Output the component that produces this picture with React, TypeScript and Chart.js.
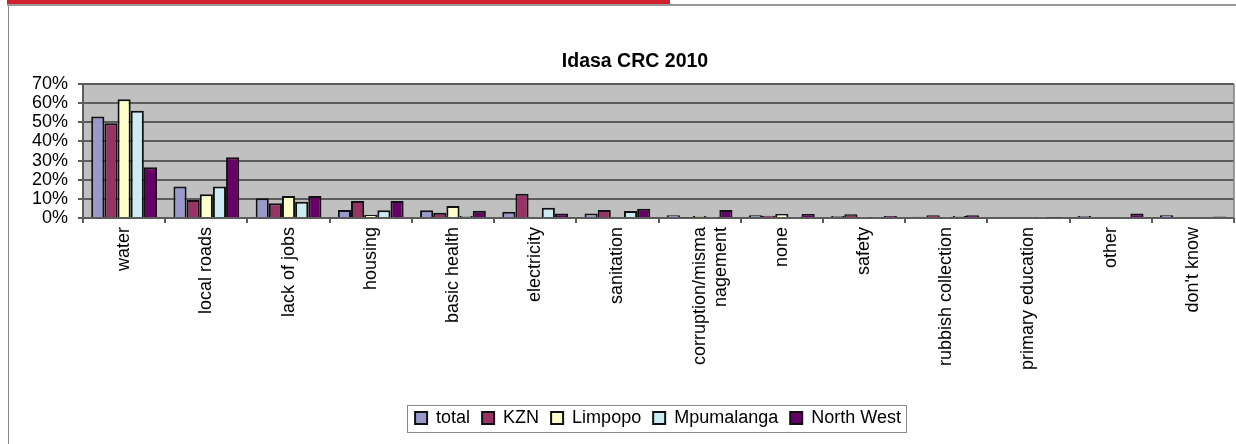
import React, { useEffect, useRef } from "react";
import { Chart, registerables } from "chart.js";

Chart.register(...registerables);

const categories: (string | string[])[] = [
  "water",
  "local roads",
  "lack of jobs",
  "housing",
  "basic health",
  "electricity",
  "sanitation",
  ["corruption/misma", "nagement"],
  "none",
  "safety",
  "rubbish collection",
  "primary education",
  "other",
  "don't know",
];

const total = [53, 16.5, 10.3, 4.2, 4, 3.3, 2.4, 1.4, 1.4, 1, 0.6, 0, 1.1, 1.4];
const kzn = [49.5, 9.4, 7.7, 8.9, 2.8, 12.7, 4.2, 0.2, 1.2, 1.9, 1.5, 0, 0.5, 0.5];
const limpopo = [62, 12.4, 11.5, 1.6, 6.3, 0, 0.5, 1, 2.1, 0.3, 0.2, 0, 0.5, 0];
const mpumalanga = [56, 16.5, 8.5, 4, 1, 5.4, 3.6, 0.3, 0.2, 0.3, 1.1, 0.3, 0.5, 0.5];
const northWest = [26.5, 31.7, 11.5, 8.9, 3.8, 2.4, 4.8, 4.2, 2.1, 1, 1.4, 0.3, 2.3, 0.8];

const yTicks = [0, 10, 20, 30, 40, 50, 60, 70];

const FONT = "'Liberation Sans', Arial, sans-serif";

const plotBg = {
  id: "plotBg",
  afterLayout(chart: any) {
    const lg = chart.legend;
    if (lg) {
      lg.left += 82;
    }
    const tt = chart.titleBlock;
    if (tt) {
      tt.left += 36;
    }
  },
  beforeDraw(chart: any) {
    const { ctx, chartArea } = chart;
    ctx.save();
    ctx.fillStyle = "#c0c0c0";
    ctx.fillRect(chartArea.left, chartArea.top, chartArea.right - chartArea.left, chartArea.bottom - chartArea.top);
    ctx.restore();
  },
  afterDraw(chart: any) {
    const { ctx, chartArea } = chart;
    ctx.save();
    ctx.strokeStyle = "#808080";
    ctx.lineWidth = 1.5;
    ctx.beginPath();
    ctx.moveTo(chartArea.right, chartArea.top);
    ctx.lineTo(chartArea.right, chartArea.bottom);
    ctx.stroke();
    const lg = chart.legend;
    if (lg && lg.legendHitBoxes && lg.legendHitBoxes.length) {
      const boxes = lg.legendHitBoxes;
      const l = boxes[0].left - 8;
      const r = boxes[boxes.length - 1].left + boxes[boxes.length - 1].width + 5;
      const t = boxes[0].top - 4;
      const b = boxes[0].top + boxes[0].height + 5;
      ctx.strokeStyle = "#8a8a8a";
      ctx.lineWidth = 1;
      ctx.strokeRect(Math.round(l) + 0.5, Math.round(t) + 0.5, Math.round(r - l), Math.round(b - t));
    }
    ctx.restore();
  },
};

export default function App() {
  const ref = useRef<HTMLCanvasElement>(null);
  useEffect(() => {
    document.body.style.margin = "0";
    const mk = (label: string, data: number[], color: string) => ({
      label,
      data,
      backgroundColor: color,
      borderColor: "#111111",
      borderWidth: 2,
      barPercentage: 1,
      categoryPercentage: 0.8,
    });
    const chart = new Chart(ref.current as HTMLCanvasElement, {
      type: "bar",
      data: {
        labels: categories,
        datasets: [
          mk("total", total, "#9999cc"),
          mk("KZN", kzn, "#993366"),
          mk("Limpopo", limpopo, "#ffffcc"),
          mk("Mpumalanga", mpumalanga, "#ccecf4"),
          mk("North West", northWest, "#660066"),
        ],
      },
      options: {
        animation: false,
        responsive: false,
        layout: { padding: { left: 0, right: 2, top: 40, bottom: 7 } },
        plugins: {
          title: {
            display: true,
            text: "Idasa CRC 2010",
            color: "#000",
            font: { family: FONT, size: 19.5, weight: "bold" },
            padding: { top: 10.3, bottom: 10.3 },
          },
          legend: {
            position: "bottom",
            labels: {
              color: "#000",
              font: { family: FONT, size: 18 },
              boxWidth: 12,
              boxHeight: 12,
              padding: 12,
            },
          },
          tooltip: { enabled: false },
        },
        scales: {
          x: {
            offset: true,
            grid: { display: true, drawOnChartArea: false, tickLength: 5, color: "#5c5c5c", lineWidth: 2, offset: true },
            border: { display: true, color: "#5c5c5c", width: 2 },
            ticks: {
              color: "#000",
              font: { family: FONT, size: 18 },
              minRotation: 90,
              maxRotation: 90,
              autoSkip: false,
              padding: 4,
            },
            afterFit(scale: any) {
              scale.height = 179;
            },
          },
          y: {
            min: 0,
            max: 70,
            afterBuildTicks(scale: any) {
              scale.ticks = yTicks.map((v) => ({ value: v }));
            },
            grid: { color: "#5c5c5c", lineWidth: 2, tickLength: 5 },
            border: { display: true, color: "#5c5c5c", width: 2 },
            ticks: {
              color: "#000",
              font: { family: FONT, size: 18 },
              padding: 10,
              autoSkip: false,
              callback: (v: any) => v + "%",
            },
            afterFit(scale: any) {
              scale.width = 83;
            },
          },
        },
      },
      plugins: [plotBg],
    } as any);
    return () => chart.destroy();
  }, []);
  return (
    <div style={{ position: "absolute", left: 0, top: 0, width: 1236, height: 444, background: "#fff", overflow: "hidden" }}>
      <canvas ref={ref} width={1236} height={444} style={{ position: "absolute", left: 0, top: 0 }} />
      <div style={{ position: "absolute", left: 7, top: 0, width: 663, height: 4, background: "#d0222c" }} />
      <div style={{ position: "absolute", left: 7, top: 4, width: 1229, height: 2, background: "#9a9a9a" }} />
      <div style={{ position: "absolute", left: 8, top: 6, width: 1, height: 438, background: "#8a8a8a" }} />
    </div>
  );
}
